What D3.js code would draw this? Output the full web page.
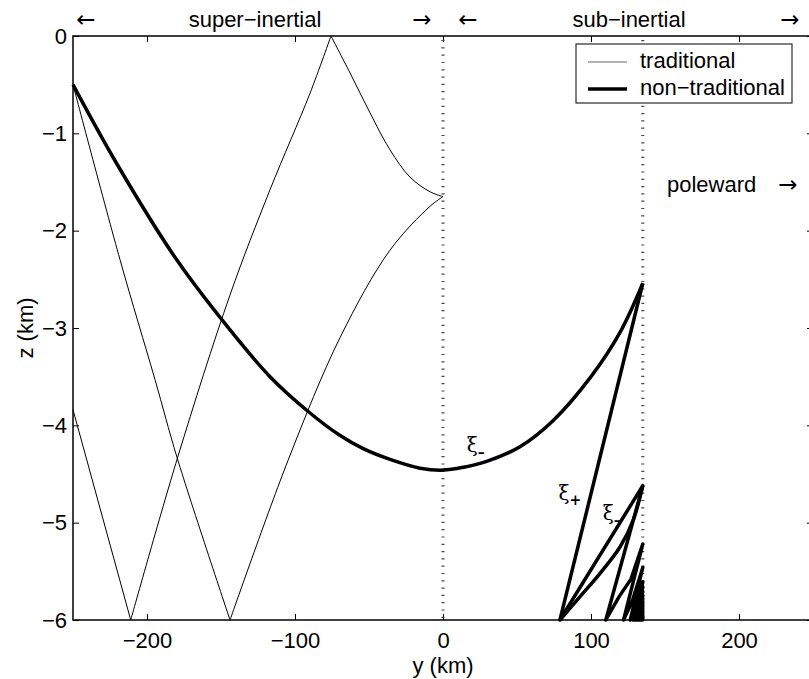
<!DOCTYPE html>
<html lang="en">
<head>
	<meta charset="UTF-8">
	<title>ray paths</title>
	<script src="https://cdn.jsdelivr.net/npm/d3@7/dist/d3.min.js"></script>
	<style>
		html, body{
			margin: 0;
			padding: 0;
			background: #fff;
		}
		svg{
			display: block;
			font-family: "Liberation Sans", Arial, sans-serif;
		}
	</style>
</head>
<body>
	<div class="chart"></div>
	<script>
		// tick values
		var yTicks = [-200, -100, 0, 100, 200];
		var zTicks = [-6, -5, -4, -3, -2, -1, 0];

		// traditional rays, [y (km), z (km)]
		var tradA1 = [[-250,-0.50],[-218.2,-2.30],[-194.6,-3.53],[-179.5,-4.34],[-143.9,-6]];
		var tradA2 = [[-143.9,-6],[-104.7,-4.36],[-69.6,-3.10],[-35.8,-2.20],[-8.8,-1.75],[0,-1.65]];
		var tradB1 = [[-250,-3.84],[-211,-6]];
		var tradB2 = [[-211,-6],[-179.5,-4.34],[-143.9,-2.66],[-116.9,-1.58],[-89.9,-0.59],[-75.7,0]];
		var tradB3 = [[-75.7,0],[-62.8,-0.38],[-49.3,-0.79],[-35.8,-1.17],[-22.3,-1.45],[-8.8,-1.60],[0,-1.65]];

		// non-traditional ray
		var ntMain = [[-250,-0.50],[-220.5,-1.31],[-179.9,-2.30],[-143.9,-3.02],[-116.9,-3.50],[-91.7,-3.85],
			[-70,-4.10],[-53.9,-4.24],[-35.8,-4.35],[-15.5,-4.44],[0,-4.46],[14,-4.43],[29.5,-4.37],[52,-4.22],
			[74.5,-3.95],[100,-3.50],[119.8,-3.04],[135,-2.54]];
		var ntArc1 = [[79,-6],[92.6,-5.76],[106.1,-5.52],[119.6,-5.25],[128.6,-4.97],[135,-4.62]];
		var ntZigzag = [[135,-2.54],[79,-6],
			[135,-4.62],[110,-6],[119,-5.76],[127,-5.58],[135,-5.22],
			[122,-6],[128,-5.8],[135,-5.46],
			[126.5,-6],[131,-5.8],[135,-5.61],
			[128.5,-6],[132,-5.8],[135,-5.66],
			[129.5,-6],[132.5,-5.83],[135,-5.71],
			[130.5,-6],[133,-5.85],[135,-5.75],
			[131.5,-6],[133.3,-5.87],[135,-5.78],
			[132.2,-6],[133.8,-5.88],[135,-5.81],
			[132.7,-6],[134,-5.9],[135,-5.84],
			[133.2,-6],[135,-5.86],[133.5,-6],[135,-5.88],[134,-6],[135,-5.91],[134.4,-6],[135,-5.94],
			[134.7,-6],[135,-5.96],[135,-6]];

		var dottedAt = [0, 135];

		var width = 809;
		var height = 679;
		var padding = { top: 36, right: -4, bottom: 59, left: 73 };
		var fontSize = 22;

		var xScale = d3.scaleLinear()
						.domain([-250, 250])
						.range([padding.left, width - padding.right]);
		var yScale = d3.scaleLinear()
						.domain([-6, 0])
						.range([height - padding.bottom, padding.top]);

		var svg = d3.select('.chart')
					.append('svg')
					.attr('width', width)
					.attr('height', height);

		var fmt = function(d){ return d < 0 ? '\u2212' + Math.abs(d) : '' + d; };

		// axes, ticks inward on all four sides
		var xBottom = d3.axisBottom(xScale).tickValues(yTicks).tickSizeInner(-6).tickSizeOuter(0).tickPadding(12).tickFormat(fmt);
		var xTop = d3.axisTop(xScale).tickValues(yTicks).tickSizeInner(-6).tickSizeOuter(0).tickFormat('');
		var yLeft = d3.axisLeft(yScale).tickValues(zTicks).tickSizeInner(-6).tickSizeOuter(0).tickPadding(6).tickFormat(fmt);
		var yRight = d3.axisRight(yScale).tickValues(zTicks).tickSizeInner(-6).tickSizeOuter(0).tickFormat('');

		function styleAxis(g){
			g.selectAll('.domain').remove();
			g.selectAll('line').attr('stroke', '#000').attr('stroke-width', 1);
			g.selectAll('text').attr('fill', '#000').attr('font-size', fontSize).attr('font-family', '"Liberation Sans", Arial, sans-serif');
		}

		svg.append('g').attr('transform', 'translate(0,' + yScale(-6) + ')').call(xBottom).call(styleAxis);
		svg.append('g').attr('transform', 'translate(0,' + yScale(0) + ')').call(xTop).call(styleAxis);
		svg.append('g').attr('transform', 'translate(' + xScale(-250) + ',0)').call(yLeft).call(styleAxis);
		svg.append('g').attr('transform', 'translate(' + xScale(250) + ',0)').call(yRight).call(styleAxis);

		// dotted lines
		svg.append('g')
			.selectAll('line')
			.data(dottedAt)
			.enter()
			.append('line')
			.attr('x1', function(d){ return xScale(d); })
			.attr('x2', function(d){ return xScale(d); })
			.attr('y1', yScale(0) + 4)
			.attr('y2', yScale(-6))
			.attr('stroke', '#444')
			.attr('stroke-width', 3)
			.attr('stroke-dasharray', '1.2,6.1');

		var line = d3.line()
						.x(function(d){ return xScale(d[0]); })
						.y(function(d){ return yScale(d[1]); });
		var smooth = d3.line()
						.x(function(d){ return xScale(d[0]); })
						.y(function(d){ return yScale(d[1]); })
						.curve(d3.curveCatmullRom.alpha(0.5));

		var plot = svg.append('g');

		[tradA1, tradA2, tradB1, tradB2, tradB3].forEach(function(seg){
			plot.append('path')
				.attr('d', smooth(seg))
				.attr('fill', 'none')
				.attr('stroke', '#000')
				.attr('stroke-width', 1);
		});

		plot.append('path')
			.attr('d', smooth(ntMain))
			.attr('fill', 'none')
			.attr('stroke', '#000')
			.attr('stroke-width', 3.5);
		plot.append('path')
			.attr('d', smooth(ntArc1))
			.attr('fill', 'none')
			.attr('stroke', '#000')
			.attr('stroke-width', 3.5);
		plot.append('path')
			.attr('d', line(ntZigzag))
			.attr('fill', 'none')
			.attr('stroke', '#000')
			.attr('stroke-linejoin', 'round')
			.attr('stroke-width', 3.5);

		// box
		svg.append('rect')
			.attr('x', xScale(-250))
			.attr('y', yScale(0))
			.attr('width', xScale(250) - xScale(-250))
			.attr('height', yScale(-6) - yScale(0))
			.attr('fill', 'none')
			.attr('stroke', '#000')
			.attr('stroke-width', 1.5);

		// axis titles
		svg.append('text')
			.attr('x', xScale(0))
			.attr('y', 673)
			.attr('text-anchor', 'middle')
			.attr('font-size', fontSize)
			.text('y (km)');
		svg.append('text')
			.attr('transform', 'translate(33,' + yScale(-3) + ') rotate(-90)')
			.attr('text-anchor', 'middle')
			.attr('font-size', fontSize)
			.text('z (km)');

		// regime labels on top
		var topWords = [{ x: 255, t: 'super\u2212inertial' }, { x: 629, t: 'sub\u2212inertial' }];
		var topArrows = [{ x: 86, t: '\u2190' }, { x: 422, t: '\u2192' }, { x: 468, t: '\u2190' }, { x: 790, t: '\u2192' }];
		svg.append('g')
			.selectAll('text')
			.data(topWords)
			.enter()
			.append('text')
			.attr('x', function(d){ return d.x; })
			.attr('y', 27)
			.attr('text-anchor', 'middle')
			.attr('font-size', fontSize)
			.text(function(d){ return d.t; });
		svg.append('g')
			.selectAll('text')
			.data(topArrows)
			.enter()
			.append('text')
			.attr('x', function(d){ return d.x; })
			.attr('y', 27)
			.attr('text-anchor', 'middle')
			.attr('font-size', 23)
			.attr('font-family', '"DejaVu Sans", sans-serif')
			.text(function(d){ return d.t; });

		svg.append('text')
			.attr('x', 667)
			.attr('y', 192)
			.attr('font-size', fontSize)
			.text('poleward');
		svg.append('text')
			.attr('x', 788)
			.attr('y', 192)
			.attr('text-anchor', 'middle')
			.attr('font-size', 23)
			.attr('font-family', '"DejaVu Sans", sans-serif')
			.text('\u2192');

		// xi labels
		var xiLabels = [
			{ y: 16, z: -4.27, sub: '\u2013' },
			{ y: 78, z: -4.77, sub: '+' },
			{ y: 108, z: -4.97, sub: '\u2013' }
		];
		xiLabels.forEach(function(d){
			var t = svg.append('text')
				.attr('x', xScale(d.y))
				.attr('y', yScale(d.z))
				.attr('font-size', 20)
				.attr('font-family', '"DejaVu Serif", serif');
			t.append('tspan').text('\u03be');
			t.append('tspan').attr('dy', 5).attr('font-size', 14).attr('font-weight', 'bold').text(d.sub);
		});

		// legend
		var legend = svg.append('g').attr('transform', 'translate(576,44)');
		legend.append('rect')
			.attr('width', 216)
			.attr('height', 59)
			.attr('fill', '#fff')
			.attr('stroke', '#000')
			.attr('stroke-width', 1);
		var legendItems = [
			{ label: 'traditional', w: 1, stroke: '#666' },
			{ label: 'non\u2212traditional', w: 3.5, stroke: '#000' }
		];
		legendItems.forEach(function(d, i){
			legend.append('line')
				.attr('x1', 12).attr('x2', 51)
				.attr('y1', 18 + i * 27).attr('y2', 18 + i * 27)
				.attr('stroke', d.stroke)
				.attr('stroke-width', d.w);
			legend.append('text')
				.attr('x', 64)
				.attr('y', 24 + i * 27)
				.attr('font-size', fontSize)
				.text(d.label);
		});
	</script>
</body>
</html>
